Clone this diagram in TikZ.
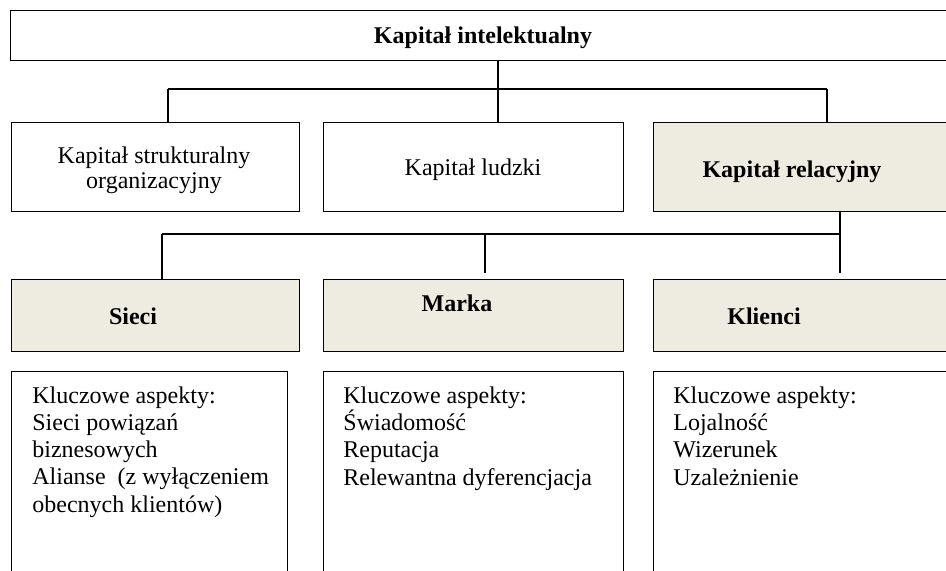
\documentclass[tikz,border=0pt]{standalone}
\usepackage{fontspec}
\setmainfont{Liberation Serif}
\usetikzlibrary{positioning}
\definecolor{relFill}{HTML}{EEECE1}
\tikzset{
  kbox/.style={draw=black, line width=0.7pt, inner sep=0pt, anchor=north west},
  relbox/.style={kbox, fill=relFill},
  headtxt/.style={anchor=base, inner sep=0pt, font=\fontsize{12}{12.5}\selectfont\bfseries},
  bodytxt/.style={anchor=base, inner sep=0pt, align=center, font=\fontsize{12}{12.5}\selectfont},
  listtxt/.style={anchor=base west, inner sep=0pt, align=left, font=\fontsize{12}{13.6}\selectfont},
  link/.style={line width=0.75pt},
}

\begin{document}
\begin{tikzpicture}[x=0.5pt, y=-0.5pt]
  \useasboundingbox (0,0) rectangle (946,570);
  \clip (0,0) rectangle (946,570);
  % top level
  \node[kbox, minimum width=473pt, minimum height=25pt] (top) at (10,10) {};
  \node[headtxt] (topT) at (483,43) {Kapitał intelektualny};
  % second level
  \node[kbox, minimum width=144pt, minimum height=44.5pt] (strukt) at (11,122) {};
  \node[kbox, minimum width=150pt, minimum height=44.5pt] (ludzki) at (323,122) {};
  \node[relbox, minimum width=150pt, minimum height=44.5pt] (rel) at (653,122) {};
  \node[bodytxt] (struktT) at (154,188) {Kapitał strukturalny\\organizacyjny};
  \node[bodytxt] (ludzkiT) at (473,175) {Kapitał ludzki};
  \node[headtxt] (relT) at (792,177) {Kapitał relacyjny};
  % third level
  \node[relbox, minimum width=144pt, minimum height=36pt] (sieci) at (11,279) {};
  \node[relbox, minimum width=150pt, minimum height=36pt] (marka) at (323,279) {};
  \node[relbox, minimum width=150pt, minimum height=36pt] (klienci) at (653,279) {};
  \node[headtxt] (sieciT) at (133,324) {Sieci};
  \node[headtxt] (markaT) at (457,311) {Marka};
  \node[headtxt] (klienciT) at (764,324) {Klienci};
  % key aspects (anchored on the last line)
  \node[kbox, minimum width=138pt, minimum height=120pt] (aspS) at (11,371) {};
  \node[kbox, minimum width=150pt, minimum height=120pt] (aspM) at (323,371) {};
  \node[kbox, minimum width=150pt, minimum height=120pt] (aspK) at (653,371) {};
  \node[listtxt] (aspST) at (32,512) {Kluczowe aspekty:\\Sieci powiązań\\biznesowych\\Alianse\ \ (z wyłączeniem\\obecnych klientów)};
  \node[listtxt] (aspMT) at (343,485) {Kluczowe aspekty:\\Świadomość\\Reputacja\\Relewantna dyferencjacja};
  \node[listtxt] (aspKT) at (673,485) {Kluczowe aspekty:\\Lojalność\\Wizerunek\\Uzależnienie};
  % connectors
  \coordinate (busL) at (168,89);
  \coordinate (busM) at (498,89);
  \coordinate (busR) at (827,89);
  \draw[link] (busM |- top.south) -- (busM);
  \draw[link] (busL) -- (busR);
  \draw[link] (busL) -- (busL |- strukt.north);
  \draw[link] (busM) -- (busM |- ludzki.north);
  \draw[link] (busR) -- (busR |- rel.north);
  \coordinate (bus2L) at (162,234);
  \coordinate (bus2M) at (485,234);
  \coordinate (bus2R) at (840,234);
  \draw[link] (bus2R |- rel.south) -- (bus2R);
  \draw[link] (bus2L) -- (bus2R);
  \draw[link] (bus2L) -- (bus2L |- sieci.north);
  \draw[link] (bus2M) -- ([yshift=3pt]bus2M |- marka.north);
  \draw[link] (bus2R) -- ([yshift=3pt]bus2R |- klienci.north);
\end{tikzpicture}
\end{document}
